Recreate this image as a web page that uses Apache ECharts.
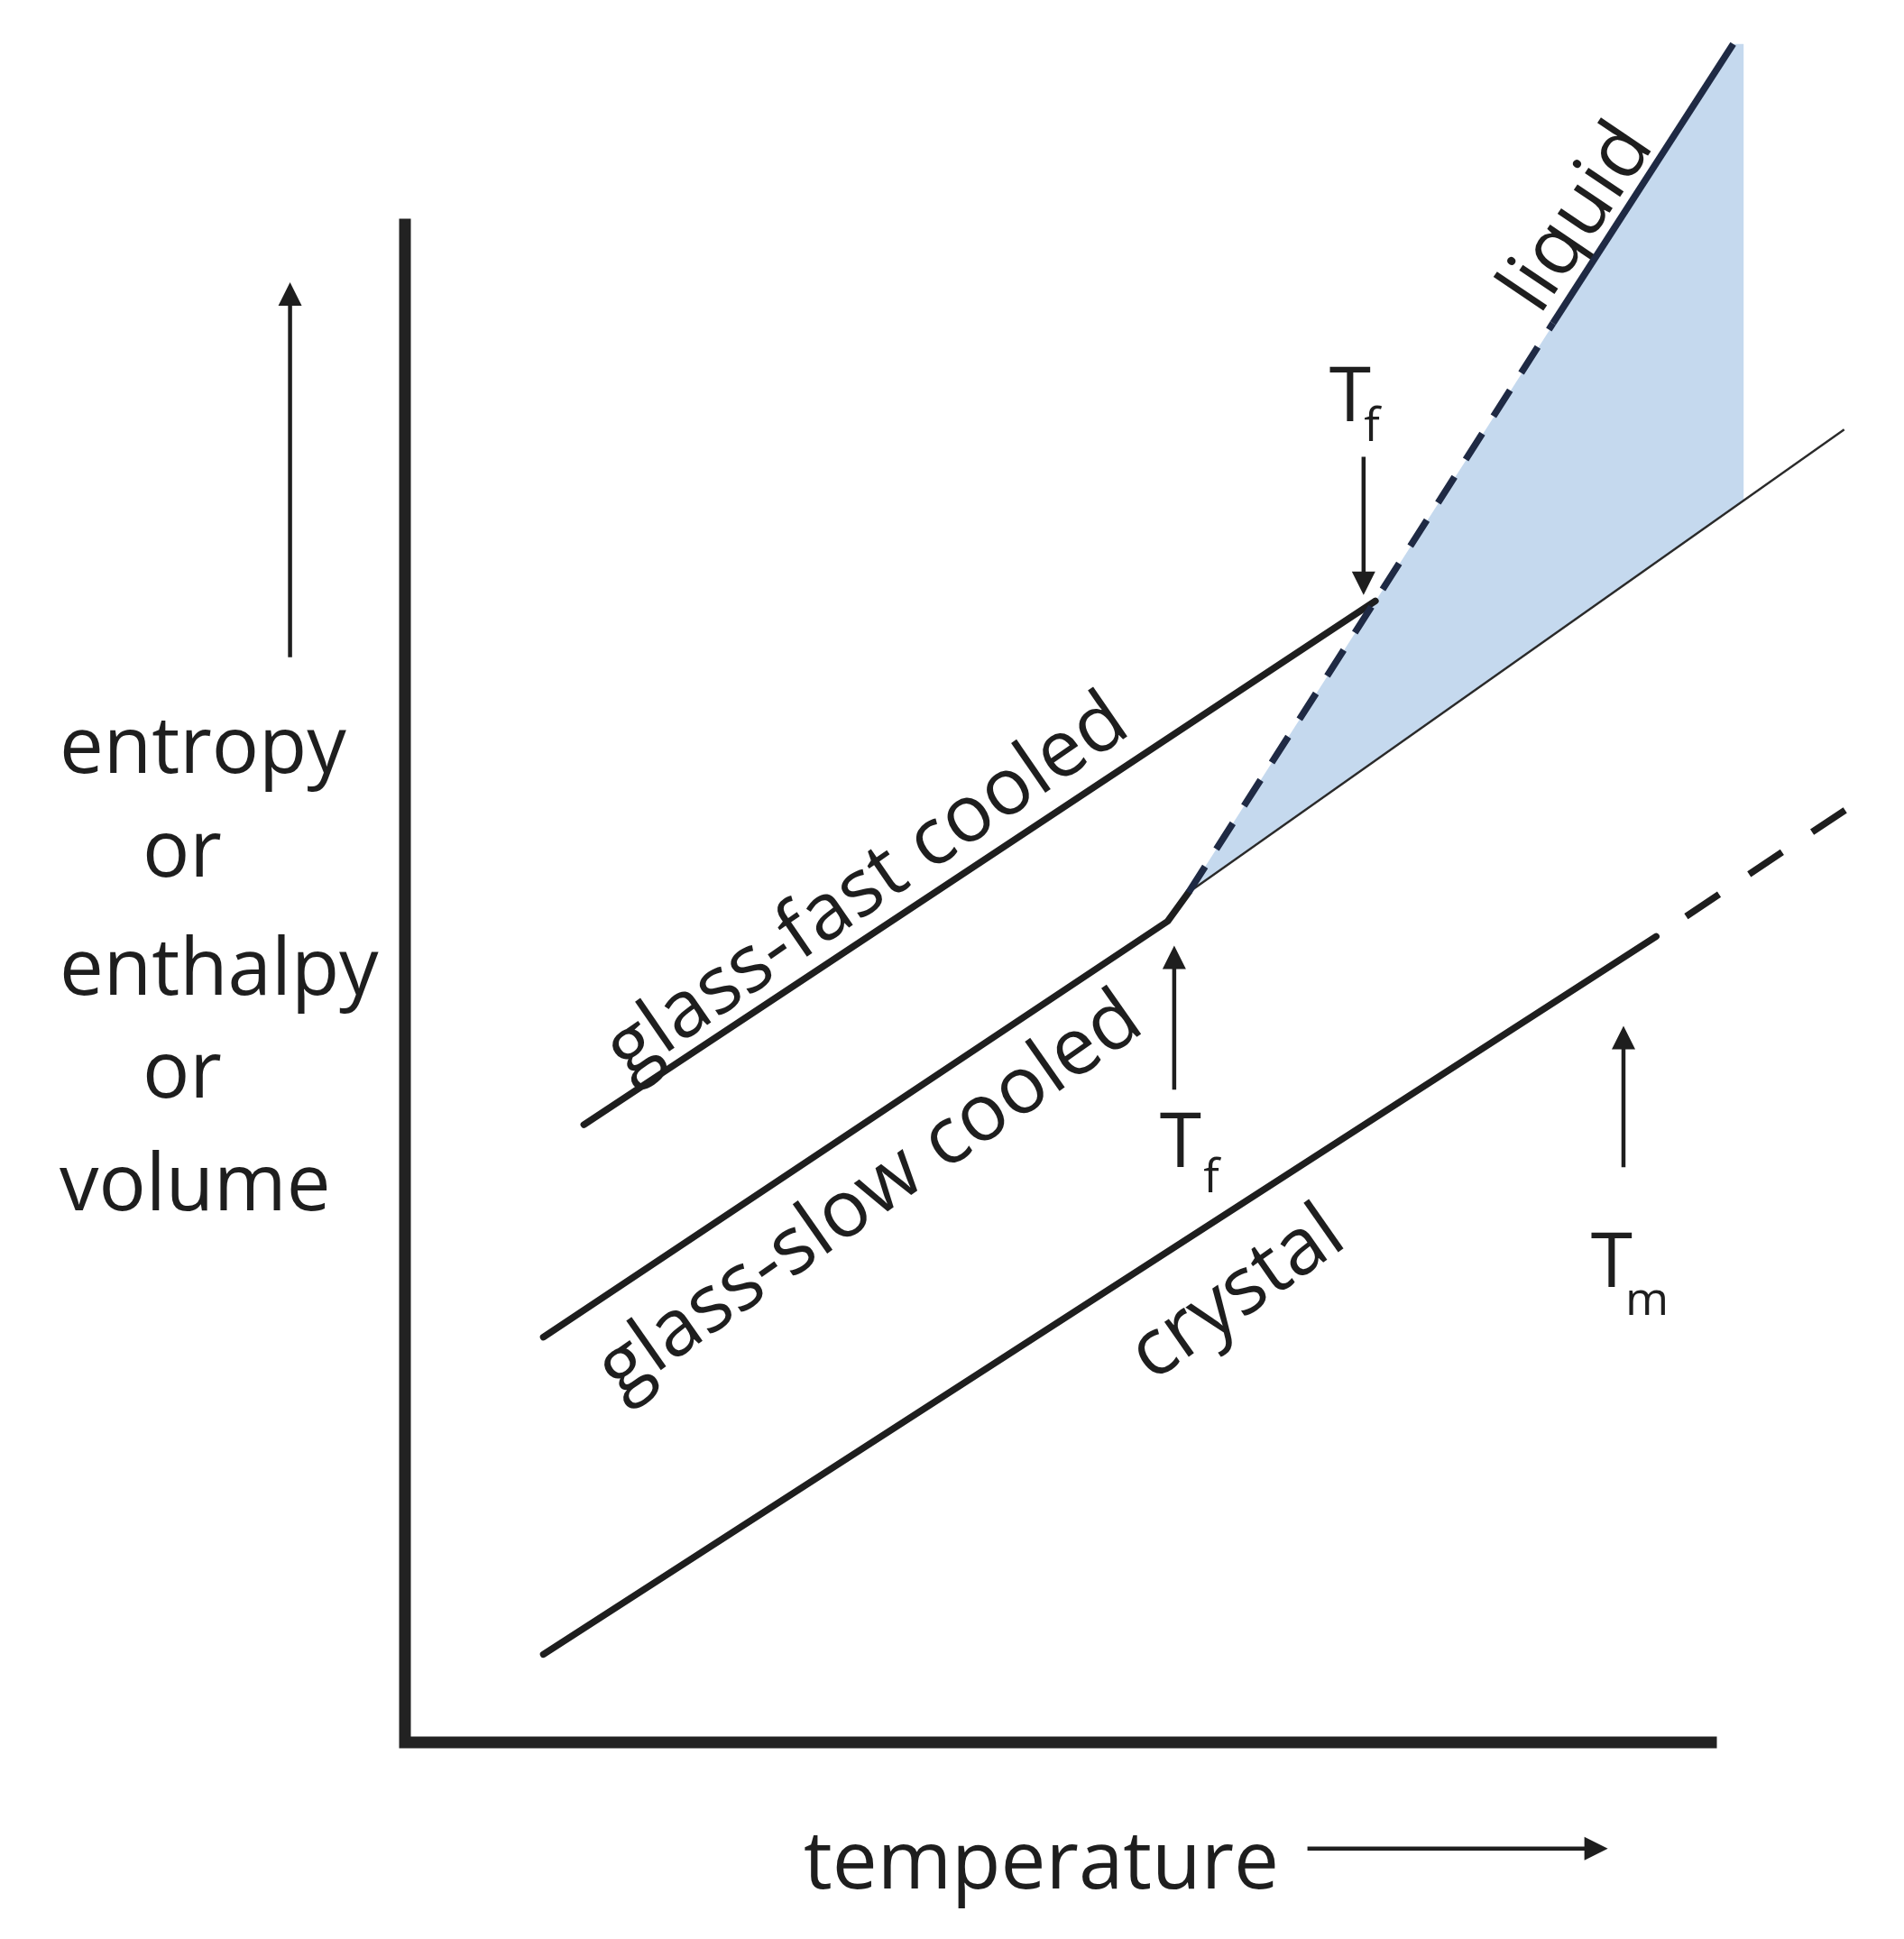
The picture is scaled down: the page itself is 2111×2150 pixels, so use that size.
<!DOCTYPE html>
<html>
<head>
<meta charset="utf-8">
<script src="https://cdn.jsdelivr.net/npm/echarts@6/dist/echarts.min.js"></script>
<style>
  html, body { margin: 0; padding: 0; background: #ffffff; }
  #chart { width: 2111px; height: 2150px; }
</style>
</head>
<body>
<div id="chart"></div>
<script>
// ---- data (arbitrary temperature / property units) ----
const axesFrame      = [[0, 100], [0, 0], [100, 0]];
const crystalSolid   = [[10.6, 5.8], [95.8, 53.1]];
const crystalDashed  = [[95.8, 53.1], [111.1, 61.9]];
const glassSlow      = [[10.6, 26.7], [58.4, 54.1], [60.0, 56.0]];
const glassFast      = [[13.7, 40.7], [74.3, 75.2]];
const liquidDashed   = [[60.0, 56.0], [87.9, 93.5]];
const liquidSolid    = [[87.9, 93.5], [101.7, 111.9]];
const glassSlowExt   = [[60.0, 56.0], [110.2, 86.5]];
const fillRegion     = [[60.0, 56.0], [101.7, 111.9], [102.5, 111.9], [102.5, 81.8]];
// arrows: [x1, y1, x2(tip), y2(tip)]
const arrows = [
  [73.4, 84.7, 73.4, 75.6],
  [58.9, 43.0, 58.9, 52.5],
  [93.3, 37.9, 93.3, 47.2],
  [-8.8, 71.5, -8.8, 96.2],
  [69.1, -7.0, 92.1, -7.0]
];
const yLabelLines = ['entropy', 'or', 'enthalpy', 'or', 'volume'];
const xLabel = 'temperature';
const curveLabels = ['glass-fast cooled', 'glass-slow cooled', 'crystal', 'liquid'];

const FONT = '"Open Sans", "Liberation Sans", sans-serif';
const INK = '#1e1e1e';

const chart = echarts.init(document.getElementById('chart'), null, { renderer: 'canvas' });

function lineSeries(data, opts) {
  return Object.assign({
    type: 'line', data: data, symbol: 'none', clip: false, silent: true,
    animation: false,
    lineStyle: { color: INK, width: 7.5, cap: 'round' }
  }, opts);
}

const yTextLeft = [66, 158, 66, 158, 66];
const yTextMid = [839, 954, 1085, 1199, 1324];
const graphics = [];
yLabelLines.forEach((t, i) => {
  graphics.push({ type: 'text', left: yTextLeft[i], top: yTextMid[i] - 50,
    style: { text: t, font: '87px ' + FONT, fill: INK } });
});
graphics.push({ type: 'text', left: 891, top: 2024,
  style: { text: xLabel, font: '89px ' + FONT, fill: INK } });

const rotLabels = [
  { x: 962, y: 984, r: 34.5 },
  { x: 965, y: 1326, r: 35 },
  { x: 1372, y: 1436, r: 35 },
  { x: 1750, y: 242, r: 56 }
];
curveLabels.forEach((t, i) => {
  const p = rotLabels[i];
  graphics.push({ type: 'text', x: p.x, y: p.y, rotation: p.r * Math.PI / 180,
    style: { text: t, font: '88px ' + FONT, fill: INK, align: 'center', verticalAlign: 'middle' } });
});
const subLabels = [
  { main: 'T', sub: 'f', x: 1497, y: 443, sx: 1521, sy: 474 },
  { main: 'T', sub: 'f', x: 1309, y: 1270, sx: 1343, sy: 1307 },
  { main: 'T', sub: 'm', x: 1787, y: 1403, sx: 1826, sy: 1443 }
];
subLabels.forEach(s => {
  graphics.push({ type: 'text', x: s.x, y: s.y,
    style: { text: s.main, font: '84px ' + FONT, fill: INK, align: 'center', verticalAlign: 'middle' } });
  graphics.push({ type: 'text', x: s.sx, y: s.sy,
    style: { text: s.sub, font: '52px ' + FONT, fill: INK, align: 'center', verticalAlign: 'middle' } });
});

const option = {
  backgroundColor: '#ffffff',
  animation: false,
  grid: { left: 449, top: 249, right: 40.24, bottom: 218, containLabel: false },
  xAxis: {
    type: 'value', min: 0, max: 112, show: false,
    axisLine: { show: false }, axisTick: { show: false }, axisLabel: { show: false }, splitLine: { show: false }
  },
  yAxis: {
    type: 'value', min: 0, max: 100, show: false,
    axisLine: { show: false }, axisTick: { show: false }, axisLabel: { show: false }, splitLine: { show: false }
  },
  series: [
    {
      type: 'custom', silent: true, z: 1, clip: false,
      data: [fillRegion[0]],
      renderItem: function (params, api) {
        return { type: 'polygon',
          shape: { points: fillRegion.map(p => api.coord(p)) },
          style: { fill: '#c5d9ee', stroke: null } };
      }
    },
    lineSeries(axesFrame, { z: 2, lineStyle: { color: '#222', width: 13, cap: 'square', join: 'miter' } }),
    lineSeries(glassSlowExt, { z: 3, lineStyle: { color: '#2a2a2a', width: 2.4 } }),
    lineSeries(crystalSolid, { z: 4 }),
    lineSeries(crystalDashed, { z: 4, lineStyle: { color: INK, width: 7.5, type: [44, 40], dashOffset: 44 } }),
    lineSeries(glassSlow, { z: 4 }),
    lineSeries(glassFast, { z: 4 }),
    lineSeries(liquidDashed, { z: 5, lineStyle: { color: '#1f2a44', width: 7.5, type: [34, 23] } }),
    lineSeries(liquidSolid, { z: 5, lineStyle: { color: '#1f2a44', width: 7.5 } }),
    {
      type: 'custom', silent: true, z: 6, clip: false,
      data: arrows,
      encode: { x: [0, 2], y: [1, 3] },
      renderItem: function (params, api) {
        const p1 = api.coord([api.value(0), api.value(1)]);
        const p2 = api.coord([api.value(2), api.value(3)]);
        const dx = p2[0] - p1[0], dy = p2[1] - p1[1];
        const len = Math.hypot(dx, dy);
        const ux = dx / len, uy = dy / len;
        const hl = 26, hw = 13;
        const bx = p2[0] - ux * hl, by = p2[1] - uy * hl;
        return { type: 'group', children: [
          { type: 'line', shape: { x1: p1[0], y1: p1[1], x2: bx + ux * 2, y2: by + uy * 2 },
            style: { stroke: INK, lineWidth: 4.5 } },
          { type: 'polygon', shape: { points: [[p2[0], p2[1]], [bx - uy * hw, by + ux * hw], [bx + uy * hw, by - ux * hw]] },
            style: { fill: INK } }
        ] };
      }
    }
  ],
  graphic: graphics
};
chart.setOption(option);
</script>
</body>
</html>
